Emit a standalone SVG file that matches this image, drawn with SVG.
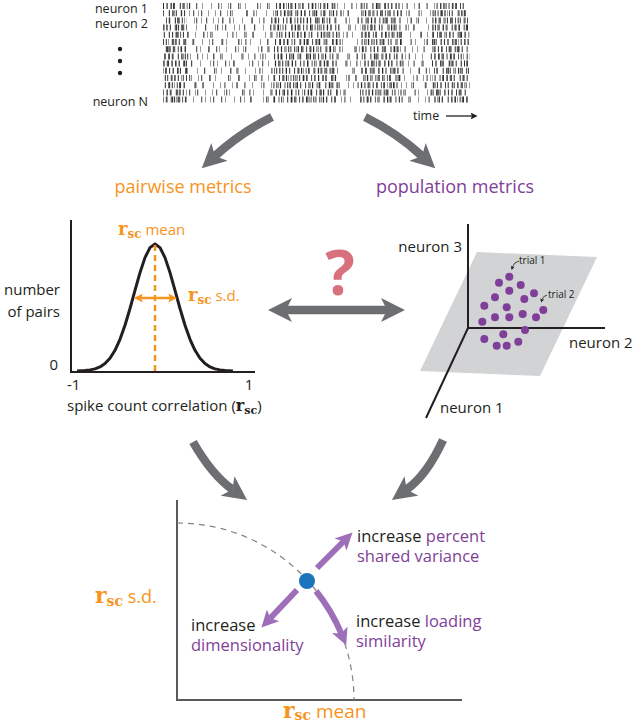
<svg xmlns="http://www.w3.org/2000/svg" width="640" height="725" viewBox="0 0 640 725">
<style>
text{font-family:"Open Sans","Liberation Sans",sans-serif;fill:#231f20}
.lbl{font-size:12.5px}
.ax{font-size:15px}
.rs{font-family:"DejaVu Serif","Liberation Serif",serif;font-weight:bold}
.or{fill:#f7941d}
.pu{fill:#7f3f98}
.ga{fill:none;stroke:#6d6e71;stroke-width:8.5}
.pa{fill:none;stroke:#9e6eb8;stroke-width:6}
.dense{stroke:#2b2b2b;stroke-width:6;stroke-dasharray:1 2.5 1.2 3.5 0.8 1.8 1 5 1 2.5 1.3 2.2 1 4 0.9 2.4}
.med{stroke:#9a9a9a;stroke-width:6;stroke-dasharray:1 6 1 11 1 4 1 14 1 8 1 9}
.sparse{stroke:#3a3a3a;stroke-width:6;stroke-dasharray:1 9 1 15 1.2 6 1 21 1 11 1 7 1 18}
.axis{fill:none;stroke:#231f20;stroke-width:2}
.dot{fill:#7f3f98}
</style>
<defs>
<marker id="gh" viewBox="0 0 24 24" refX="6" refY="12" markerWidth="24" markerHeight="24" markerUnits="userSpaceOnUse" orient="auto-start-reverse"><path d="M0,0 L24,12 L0,24 L6,12 Z" fill="#6d6e71"/></marker>
<marker id="oh" viewBox="0 0 10 10" refX="2" refY="5" markerWidth="9" markerHeight="9" markerUnits="userSpaceOnUse" orient="auto-start-reverse"><path d="M0,0 L10,5 L0,10 L2,5 Z" fill="#f7941d"/></marker>
<marker id="ph" viewBox="0 0 16 16" refX="4" refY="8" markerWidth="17" markerHeight="17" markerUnits="userSpaceOnUse" orient="auto"><path d="M0,0 L16,8 L0,16 L4,8 Z" fill="#9e6eb8"/></marker>
<marker id="kh" viewBox="0 0 10 10" refX="2" refY="5" markerWidth="7" markerHeight="7" markerUnits="userSpaceOnUse" orient="auto"><path d="M0,0 L10,5 L0,10 L2,5 Z" fill="#231f20"/></marker>
<marker id="th" viewBox="0 0 10 10" refX="2" refY="5" markerWidth="4" markerHeight="4" markerUnits="userSpaceOnUse" orient="auto"><path d="M0,0 L10,5 L0,10 L2,5 Z" fill="#231f20"/></marker>
<clipPath id="rclip"><rect x="163" y="0" width="307" height="104"/></clipPath>
<clipPath id="cclip"><rect x="163" y="0" width="24" height="104"/><rect x="274" y="0" width="64" height="104"/><rect x="360" y="0" width="42" height="104"/><rect x="432" y="0" width="36" height="104"/></clipPath>
</defs>

<g id="raster">
<g clip-path="url(#rclip)">
<g class="med">
<line x1="163" x2="470" y1="6" y2="6" stroke-dashoffset="0"/>
<line x1="163" x2="470" y1="13.2" y2="13.2" stroke-dashoffset="13"/>
<line x1="163" x2="470" y1="20.4" y2="20.4" stroke-dashoffset="27"/>
<line x1="163" x2="470" y1="27.6" y2="27.6" stroke-dashoffset="6"/>
<line x1="163" x2="470" y1="34.8" y2="34.8" stroke-dashoffset="33"/>
<line x1="163" x2="470" y1="42" y2="42" stroke-dashoffset="19"/>
<line x1="163" x2="470" y1="49.2" y2="49.2" stroke-dashoffset="2"/>
<line x1="163" x2="470" y1="56.4" y2="56.4" stroke-dashoffset="38"/>
<line x1="163" x2="470" y1="63.6" y2="63.6" stroke-dashoffset="11"/>
<line x1="163" x2="470" y1="70.8" y2="70.8" stroke-dashoffset="24"/>
<line x1="163" x2="470" y1="78" y2="78" stroke-dashoffset="30"/>
<line x1="163" x2="470" y1="85.2" y2="85.2" stroke-dashoffset="8"/>
<line x1="163" x2="470" y1="92.4" y2="92.4" stroke-dashoffset="16"/>
<line x1="163" x2="470" y1="99.6" y2="99.6" stroke-dashoffset="35"/>
</g>
<g class="sparse">
<line x1="163" x2="470" y1="6" y2="6" stroke-dashoffset="0"/>
<line x1="163" x2="470" y1="13.2" y2="13.2" stroke-dashoffset="37"/>
<line x1="163" x2="470" y1="20.4" y2="20.4" stroke-dashoffset="61"/>
<line x1="163" x2="470" y1="27.6" y2="27.6" stroke-dashoffset="13"/>
<line x1="163" x2="470" y1="34.8" y2="34.8" stroke-dashoffset="80"/>
<line x1="163" x2="470" y1="42" y2="42" stroke-dashoffset="45"/>
<line x1="163" x2="470" y1="49.2" y2="49.2" stroke-dashoffset="22"/>
<line x1="163" x2="470" y1="56.4" y2="56.4" stroke-dashoffset="70"/>
<line x1="163" x2="470" y1="63.6" y2="63.6" stroke-dashoffset="5"/>
<line x1="163" x2="470" y1="70.8" y2="70.8" stroke-dashoffset="53"/>
<line x1="163" x2="470" y1="78" y2="78" stroke-dashoffset="29"/>
<line x1="163" x2="470" y1="85.2" y2="85.2" stroke-dashoffset="88"/>
<line x1="163" x2="470" y1="92.4" y2="92.4" stroke-dashoffset="41"/>
<line x1="163" x2="470" y1="99.6" y2="99.6" stroke-dashoffset="17"/>
</g>
<g class="dense" clip-path="url(#cclip)">
<line x1="163" x2="470" y1="6" y2="6" stroke-dashoffset="0"/>
<line x1="163" x2="470" y1="13.2" y2="13.2" stroke-dashoffset="11"/>
<line x1="163" x2="470" y1="20.4" y2="20.4" stroke-dashoffset="5"/>
<line x1="163" x2="470" y1="27.6" y2="27.6" stroke-dashoffset="17"/>
<line x1="163" x2="470" y1="34.8" y2="34.8" stroke-dashoffset="23"/>
<line x1="163" x2="470" y1="42" y2="42" stroke-dashoffset="8"/>
<line x1="163" x2="470" y1="49.2" y2="49.2" stroke-dashoffset="14"/>
<line x1="163" x2="470" y1="56.4" y2="56.4" stroke-dashoffset="2"/>
<line x1="163" x2="470" y1="63.6" y2="63.6" stroke-dashoffset="20"/>
<line x1="163" x2="470" y1="70.8" y2="70.8" stroke-dashoffset="26"/>
<line x1="163" x2="470" y1="78" y2="78" stroke-dashoffset="9"/>
<line x1="163" x2="470" y1="85.2" y2="85.2" stroke-dashoffset="15"/>
<line x1="163" x2="470" y1="92.4" y2="92.4" stroke-dashoffset="4"/>
<line x1="163" x2="470" y1="99.6" y2="99.6" stroke-dashoffset="21"/>
</g>
</g>
<text class="lbl" x="148" y="13" text-anchor="end">neuron 1</text>
<text class="lbl" x="148" y="28" text-anchor="end">neuron 2</text>
<circle cx="120" cy="49" r="2.2" fill="#231f20"/>
<circle cx="120" cy="61" r="2.2" fill="#231f20"/>
<circle cx="120" cy="73" r="2.2" fill="#231f20"/>
<text class="lbl" x="148" y="106" text-anchor="end">neuron N</text>
<text class="lbl" x="413" y="120" font-size="13.5">time</text>
<line x1="446" y1="116" x2="472" y2="116" stroke="#231f20" stroke-width="1.3" marker-end="url(#kh)"/>
</g>

<g id="pairwise-label">
<text x="183" y="193" text-anchor="middle" font-size="18" class="or">pairwise metrics</text>
</g>
<g id="population-label">
<text x="455" y="193" text-anchor="middle" font-size="18" class="pu">population metrics</text>
</g>

<g id="distribution">
<polyline class="axis" points="71,220 71,372 255,372"/>
<polyline fill="none" stroke="#231f20" stroke-width="3" stroke-linejoin="round" points="77,371 85,370.5 90,369.9 95,368.9 100,366.9 105,363.5 110,358.2 115,350.3 120,339.3 125,325.2 130,308.5 135,290.3 140,272.6 145,257.6 150,247.6 155,244 160,247.6 165,257.6 170,272.6 175,290.3 180,308.5 185,325.2 190,339.3 195,350.3 200,358.2 205,363.5 210,366.9 215,368.9 220,369.9 225,370.5 233,371"/>
<line x1="155" y1="245" x2="155" y2="371" stroke="#f7941d" stroke-width="2.5" stroke-dasharray="6 4"/>
<line x1="141" y1="298" x2="170" y2="298" stroke="#f7941d" stroke-width="2.5" marker-start="url(#oh)" marker-end="url(#oh)"/>
<text x="118" y="235" class="or"><tspan class="rs or" font-size="18">r</tspan><tspan class="rs or" font-size="12" dy="3">sc</tspan><tspan dy="-3" font-size="15" class="or"> mean</tspan></text>
<text x="188" y="301" class="or"><tspan class="rs or" font-size="18">r</tspan><tspan class="rs or" font-size="12" dy="3">sc</tspan><tspan dy="-3" font-size="15" class="or"> s.d.</tspan></text>
<text class="ax" x="60" y="295" text-anchor="end">number</text>
<text class="ax" x="60" y="317" text-anchor="end">of pairs</text>
<text class="ax" x="58" y="370" text-anchor="end">0</text>
<text class="ax" x="67" y="390">-1</text>
<text class="ax" x="249" y="390" text-anchor="middle">1</text>
<text class="ax" x="67" y="411">spike count correlation (<tspan class="rs" font-size="16">r</tspan><tspan class="rs" font-size="11" dy="3">sc</tspan><tspan dy="-3">)</tspan></text>
</g>

<g id="question">
<text x="340" y="295" text-anchor="middle" font-size="62" font-weight="bold" style="fill:#d8707e">?</text>
</g>

<g id="population-plot">
<polygon points="477,252 597,257 540,376 420,371" fill="#d1d3d4"/>
<line class="axis" x1="468" y1="224" x2="468" y2="328"/>
<line class="axis" x1="467" y1="328" x2="605" y2="328"/>
<line class="axis" x1="468" y1="328" x2="426" y2="418"/>
<g>
<circle class="dot" cx="509.3" cy="276.7" r="4"/>
<circle class="dot" cx="499" cy="282.7" r="4"/>
<circle class="dot" cx="520.7" cy="285" r="4"/>
<circle class="dot" cx="509.3" cy="290.7" r="4"/>
<circle class="dot" cx="534" cy="293.3" r="4"/>
<circle class="dot" cx="495" cy="297.3" r="4"/>
<circle class="dot" cx="524.3" cy="299" r="4"/>
<circle class="dot" cx="484.3" cy="305.7" r="4"/>
<circle class="dot" cx="506.7" cy="307.3" r="4"/>
<circle class="dot" cx="543.3" cy="310" r="4"/>
<circle class="dot" cx="495" cy="317.3" r="4"/>
<circle class="dot" cx="509.3" cy="317.3" r="4"/>
<circle class="dot" cx="522.7" cy="314" r="4"/>
<circle class="dot" cx="536" cy="317.3" r="4"/>
<circle class="dot" cx="482.3" cy="321.7" r="4"/>
<circle class="dot" cx="525" cy="330" r="4"/>
<circle class="dot" cx="503.3" cy="334.3" r="4"/>
<circle class="dot" cx="484.3" cy="339" r="4"/>
<circle class="dot" cx="518.3" cy="341.7" r="4"/>
<circle class="dot" cx="496.7" cy="345.7" r="4"/>
<circle class="dot" cx="506.7" cy="345.7" r="4"/>
</g>
<text x="519" y="264" font-size="10">trial 1</text>
<path d="M519,261 Q514,262 512.5,267" fill="none" stroke="#231f20" stroke-width="0.8" marker-end="url(#th)"/>
<text x="548" y="298" font-size="10">trial 2</text>
<path d="M547,295 Q543,296 542,299.5" fill="none" stroke="#231f20" stroke-width="0.8" marker-end="url(#th)"/>
<text class="ax" x="462" y="252" text-anchor="end">neuron 3</text>
<text class="ax" x="569" y="348">neuron 2</text>
<text class="ax" x="440" y="413">neuron 1</text>
</g>

<g id="result-plot">
<polyline points="177,500 177,700 462,700" fill="none" stroke="#58595b" stroke-width="2"/>
<path d="M177,523 A177,177 0 0 1 354,700" fill="none" stroke="#808285" stroke-width="1.2" stroke-dasharray="6 5"/>
<line class="pa" x1="317" y1="568" x2="343.5" y2="541.5" marker-end="url(#ph)"/>
<line class="pa" x1="297" y1="590" x2="270.2" y2="618.3" marker-end="url(#ph)"/>
<path class="pa" d="M316,591 A177,177 0 0 1 341.3,633.6" marker-end="url(#ph)"/>
<circle cx="307" cy="581" r="8" fill="#1b75bc"/>
<text x="357" y="542" font-size="16.5">increase <tspan class="pu">percent</tspan></text>
<text x="357" y="562" font-size="16.5" class="pu">shared variance</text>
<text x="356" y="627" font-size="16.5">increase <tspan class="pu">loading</tspan></text>
<text x="356" y="647" font-size="16.5" class="pu">similarity</text>
<text x="191" y="631" font-size="16.5">increase</text>
<text x="191" y="651" font-size="16.5" class="pu">dimensionality</text>
<text x="95" y="603" class="or"><tspan class="rs or" font-size="22">r</tspan><tspan class="rs or" font-size="14" dy="3">sc</tspan><tspan dy="-3" font-size="18" class="or"> s.d.</tspan></text>
<text x="283" y="718" class="or"><tspan class="rs or" font-size="22">r</tspan><tspan class="rs or" font-size="14" dy="2">sc</tspan><tspan dy="-2" font-size="19" class="or"> mean</tspan></text>
</g>

<g id="connectors">
<path class="ga" d="M272,117 Q240,133 215,156" marker-end="url(#gh)"/>
<path class="ga" d="M365,117 Q397,133 422,156" marker-end="url(#gh)"/>
<line class="ga" x1="286" y1="310" x2="387" y2="310" marker-start="url(#gh)" marker-end="url(#gh)"/>
<path class="ga" d="M193,442 Q212,475 232.4,489.5" marker-end="url(#gh)"/>
<path class="ga" d="M443,440 Q427,475 406.6,489.5" marker-end="url(#gh)"/>
</g>
</svg>
